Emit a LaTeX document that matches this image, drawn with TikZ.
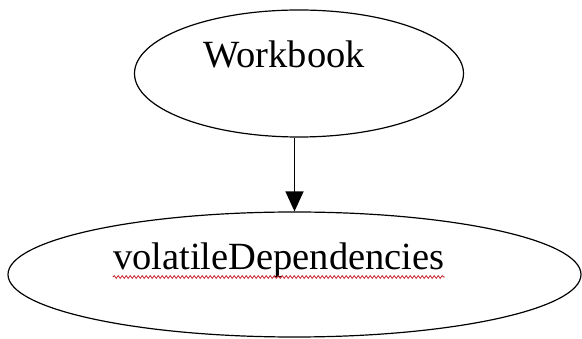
\documentclass[tikz,border=0pt]{standalone}
\usepackage{fontspec}
\setmainfont{Liberation Serif}
\usepackage{xcolor}
\definecolor{spellred}{RGB}{200,30,40}
\usepackage{tikz}
\usetikzlibrary{shapes.geometric,arrows.meta,positioning,calc,decorations.pathmorphing}

\begin{document}
\begin{tikzpicture}[
  x=1pt,y=-1pt,
  oval/.style={ellipse,draw=black,line width=1.2pt,inner sep=0pt},
  label/.style={inner sep=0pt,font=\fontsize{38.5}{46}\selectfont},
  arrow/.style={-{Triangle[length=20pt,width=18pt]},line width=1.4pt},
  squiggle/.style={draw=spellred,line width=0.8pt,
    decorate,decoration={snake,segment length=4pt,amplitude=1.4pt}}
]
  \useasboundingbox (0,0) rectangle (582,339);
  \node[oval,minimum width=329pt,minimum height=127pt] (wb) at (299,73.5) {};
  \node[oval,minimum width=573pt,minimum height=125pt] (vd) at (294.5,274.5) {};
  \node[label,anchor=base west] (wbtext) at (203,68) {Workbook};
  \node[label,anchor=base west] (vdtext) at (113,270) {volatileDependencies};
  \draw[arrow] (vd.north |- wb.south)--(vd.north);
  \draw[squiggle] ([yshift=-7pt]vdtext.base west)--([yshift=-7pt]vdtext.base east);
\end{tikzpicture}
\end{document}
